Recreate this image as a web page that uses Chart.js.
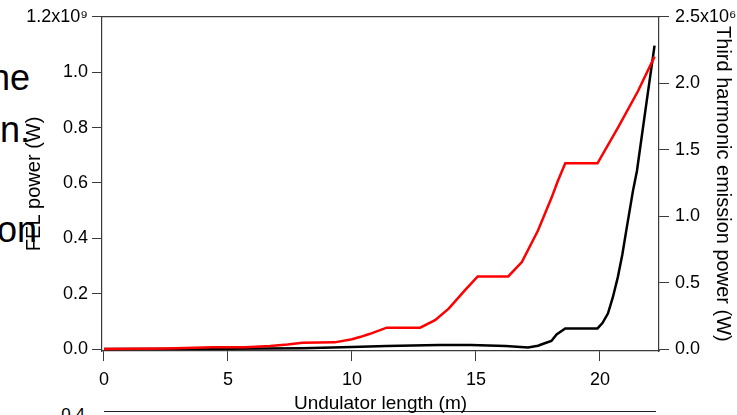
<!DOCTYPE html>
<html>
<head>
<meta charset="utf-8">
<script src="https://cdn.jsdelivr.net/npm/chart.js@4/dist/chart.umd.min.js"></script>
<style>
  html, body { margin: 0; padding: 0; background: #fff; overflow: hidden; }
  #wrap { position: relative; width: 737px; height: 415px; overflow: hidden; }
  #c { position: absolute; left: 0; top: 0; z-index: 2; }
  .bg { position: absolute; z-index: 1; font-family: "Liberation Sans", Arial, sans-serif; color: #000; white-space: nowrap; text-align: right; }
  .big { font-size: 36px; line-height: 36px; }
  .small { font-size: 17px; line-height: 17px; }
  #rule { position: absolute; z-index: 1; left: 104px; top: 411px; width: 552px; border-top: 1.5px solid #222; }
</style>
</head>
<body>
<div id="wrap">
  <div class="bg big" style="right:707px; top:60px;">ne</div>
  <div class="bg big" style="right:707px; top:112px;">n.</div>
  <div class="bg big" style="right:700px; top:212px;">on</div>
  <div class="bg small" style="right:652px; top:406px;">0.4</div>
  <div id="rule"></div>
  <canvas id="c" width="737" height="415"></canvas>
</div>
<script>
// ---- data ----
const redX = [0, 2.5, 4.4, 5.7, 6.7, 7.4, 8.0, 9.3, 10.0, 10.35, 10.7, 11.4, 12.75, 13.35, 13.9, 14.55, 15.07, 16.3, 16.85, 17.5, 18.05, 18.3, 18.6, 19.9, 20.72, 21.53, 22.2];
const redY = [0, 0.002, 0.006, 0.006, 0.011, 0.016, 0.023, 0.024, 0.035, 0.044, 0.054, 0.077, 0.077, 0.104, 0.146, 0.212, 0.262, 0.262, 0.314, 0.428, 0.547, 0.607, 0.671, 0.671, 0.799, 0.931, 1.056];

const blackX = [0, 5, 8, 10, 11.4, 13.5, 14.8, 16.2, 17.1, 17.5, 17.8, 18.04, 18.25, 18.6, 19.9, 20.1, 20.32, 20.52, 20.72, 20.9, 21.06, 21.33, 21.49, 21.85, 22.2];
const blackY = [0, 0.002, 0.005, 0.015, 0.022, 0.030, 0.030, 0.022, 0.012, 0.025, 0.045, 0.06, 0.11, 0.155, 0.155, 0.195, 0.267, 0.39, 0.541, 0.71, 0.891, 1.19, 1.34, 1.82, 2.283];

const xTicks = [0, 5, 10, 15, 20];
const leftTicks = [0, 0.2, 0.4, 0.6, 0.8, 1.0, 1.2];
const leftTickLabels = ['0.0', '0.2', '0.4', '0.6', '0.8', '1.0', '1.2x10\u2079'];
const rightTicks = [0, 0.5, 1.0, 1.5, 2.0, 2.5];
const rightTickLabels = ['0.0', '0.5', '1.0', '1.5', '2.0', '2.5x10\u2076'];

const xTitle = 'Undulator length (m)';
const leftTitle = 'FEL power (W)';
const rightTitle = 'Third harmonic emission power (W)';

// ---- build ----
const toPts = (xs, ys) => xs.map((x, i) => ({ x: x, y: ys[i] }));
const FONT = "'Liberation Sans', Arial, sans-serif";
const AXIS = '#3a3a3a';

const fixTicks = (vals) => (scale) => { scale.ticks = vals.map(v => ({ value: v })); };

new Chart(document.getElementById('c'), {
  type: 'line',
  data: {
    datasets: [
      { data: toPts(redX, redY), xAxisID: 'x', yAxisID: 'y', borderColor: '#ff0000', borderWidth: 2.5, pointRadius: 0, tension: 0, fill: false },
      { data: toPts(blackX, blackY), xAxisID: 'x', yAxisID: 'y2', borderColor: '#000000', borderWidth: 2.5, pointRadius: 0, tension: 0, fill: false }
    ]
  },
  options: {
    responsive: false,
    devicePixelRatio: 1,
    animation: false,
    layout: { padding: 0 },
    plugins: { legend: { display: false }, tooltip: { enabled: false } },
    scales: {
      x: {
        type: 'linear', position: 'bottom', min: -0.08, max: 22.38,
        afterBuildTicks: fixTicks(xTicks),
        afterFit: (s) => { s.height = 64; },
        grid: { drawOnChartArea: false, drawTicks: true, tickLength: 10, color: AXIS, lineWidth: 1 },
        border: { display: true, color: AXIS, width: 1.2 },
        ticks: { color: '#000', font: { family: FONT, size: 18 }, padding: 8, maxRotation: 0, callback: (v) => String(v) },
        title: { display: true, text: xTitle, color: '#000', font: { family: FONT, size: 19 }, padding: { top: 0, bottom: 0 } }
      },
      xTop: {
        type: 'linear', position: 'top', min: -0.08, max: 22.38,
        afterFit: (s) => { s.height = 15; },
        grid: { display: false, drawOnChartArea: false, drawTicks: false },
        border: { display: true, color: AXIS, width: 1.2 },
        ticks: { display: false }
      },
      y: {
        type: 'linear', position: 'left', min: -0.0072, max: 1.2,
        afterBuildTicks: fixTicks(leftTicks),
        afterFit: (s) => { s.width = 102; },
        grid: { drawOnChartArea: false, drawTicks: true, tickLength: 10, color: AXIS, lineWidth: 1 },
        border: { display: true, color: AXIS, width: 1.2 },
        ticks: { color: '#000', font: { family: FONT, size: 18 }, padding: 4,
          callback: (v) => { const i = leftTicks.findIndex(t => Math.abs(t - v) < 1e-9); return i >= 0 ? leftTickLabels[i] : ''; } },
        title: { display: true, text: leftTitle, color: '#000', font: { family: FONT, size: 20 }, padding: { top: 22, bottom: 0 } }
      },
      y2: {
        type: 'linear', position: 'right', min: -0.015, max: 2.5,
        afterBuildTicks: fixTicks(rightTicks),
        afterFit: (s) => { s.width = 78; },
        grid: { drawOnChartArea: false, drawTicks: true, tickLength: 10, color: AXIS, lineWidth: 1 },
        border: { display: true, color: AXIS, width: 1.2 },
        ticks: { color: '#000', font: { family: FONT, size: 18 }, padding: 6,
          callback: (v) => { const i = rightTicks.findIndex(t => Math.abs(t - v) < 1e-9); return i >= 0 ? rightTickLabels[i] : ''; } },
        title: { display: true, text: rightTitle, color: '#000', font: { family: FONT, size: 20 }, padding: { top: 2, bottom: 0 } }
      }
    }
  }
});
</script>
</body>
</html>
